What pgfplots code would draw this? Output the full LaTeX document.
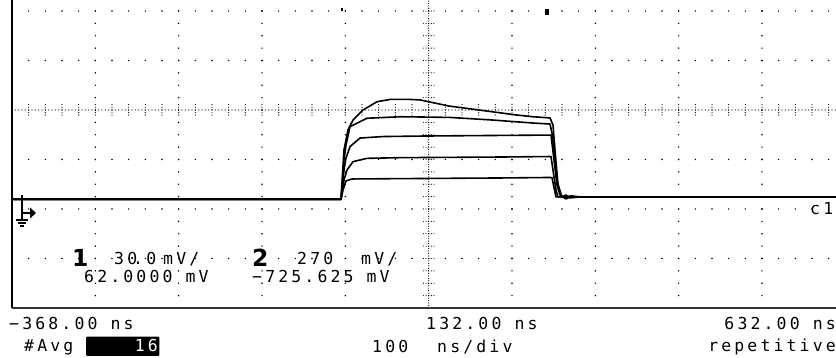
\documentclass[border=0pt]{standalone}
\usepackage{pgfplots}
\pgfplotsset{compat=1.18}
\usepackage{fontspec}
\newfontfamily\scope[LetterSpace=19]{DejaVu Sans Mono}
\newfontfamily\scopebig{DejaVu Sans}
\newcommand\sz{\fontsize{16.5}{19}\selectfont}
\begin{document}
\begin{tikzpicture}[x=1pt,y=1pt]
\useasboundingbox (0,0) rectangle (836,358);
\tikzset{gd/.style={line width=1.6pt, line cap=round, dash pattern=on 0pt off #1, black}}
% dotted graticule (image y -> 358 - y)
\foreach \k in {1,2,3,4,6,7,8,9} \draw[gd=12.375pt] ({12+83.3333*\k},50) -- ({12+83.3333*\k},358);
\foreach \yy in {347,297.5,198.5,149,99.5} \draw[gd=16.6667pt] (12,\yy) -- (836,\yy);
% centre lines with minor ticks
\draw[line width=1.2pt, line cap=round, dash pattern=on 0pt off 3.3333pt, black] (12,248) -- (836,248);
\foreach \k in {1,...,49} \draw[line width=1.2pt,line cap=round,dash pattern=on 0pt off 2.6pt, black] ({12+16.6667*\k},243) -- ({12+16.6667*\k},253.5);
\draw[line width=1.2pt, line cap=round, dash pattern=on 0pt off 2.475pt, black] (428.67,50) -- (428.67,358);
\foreach \k in {1,...,24} \draw[line width=1.2pt,line cap=round,dash pattern=on 0pt off 2.6pt, black] (423.5,{50+12.375*\k}) -- (434,{50+12.375*\k});
\begin{axis}[at={(12pt,50pt)}, anchor=south west, scale only axis,
  width=824pt, height=308pt,
  xmin=-368, xmax=620.8, ymin=-58, ymax=128.667,
  axis x line*=bottom, axis y line*=left,
  xtick=\empty, ytick=\empty,
  x axis line style={line width=2pt, black!80, -},
  y axis line style={line width=2.6pt, black, -},
  clip=true]
\addplot[black, line width=1.6pt, line join=round] coordinates {
(-368,7.9) (26.8,7.9) (29.2,13.5) (32.8,19.0) (40,20.2) (97.6,20.4) (157.6,20.6)
(217.6,20.8) (277.6,21.1) (280,21.0) (282.4,15.0) (284.8,9.3) (620.8,9.3)};
\addplot[black, line width=1.6pt, line join=round] coordinates {
(-368,7.9) (26.8,7.9) (30.4,19.6) (34,25.6) (41.2,30.7) (58,32.7) (97.6,33.1)
(157.6,33.3) (217.6,33.5) (278.8,33.8) (281.2,25.6) (284.8,13.5) (287.2,9.3) (620.8,9.3)};
\addplot[black, line width=1.6pt, line join=round] coordinates {
(-368,7.9) (26.8,7.9) (30.4,25.6) (32.8,32.9) (37.6,39.8) (49.6,45.0) (77.2,45.9)
(121.6,46.2) (193.6,46.5) (278.8,46.8) (282.4,31.7) (286,16.5) (289.6,10.5)
(295.6,8.7) (301.6,9.9) (307.6,9.3) (620.8,9.3)};
\addplot[black, line width=1.6pt, line join=round] coordinates {
(-368,7.9) (26.8,7.9) (30.4,31.7) (32.8,40.8) (37.6,51.9) (58,57.0) (97.6,57.9)
(116.8,57.8) (157.6,57.5) (209.2,55.9) (257.2,54.1) (277.6,53.5) (280,48)
(282.4,37.8) (286,19.6) (290.8,9.9) (296.8,8.1) (304,9.9) (313.6,9.3) (620.8,9.3)};
\addplot[black, line width=1.6pt, line join=round] coordinates {
(-368,7.9) (26.8,7.9) (30.4,37.8) (35.2,49.9) (41.2,55.9) (53.2,62.0) (70,67.0)
(85.6,68.4) (109.6,68.4) (121.6,68.1) (156.4,64.4) (192.4,62.0) (236.8,59.0)
(257.2,57.9) (277.6,57.2) (281.2,52.9) (283.6,37.8) (287.2,16.5) (292,9.3)
(296.8,10.5) (301.6,8.7) (313.6,9.3) (620.8,9.3)};
\end{axis}
% ground marker
\draw[line width=1.3pt] (22,163) -- (22,139);
\draw[line width=1.5pt] (22,145) -- (31,145);
\fill (30,150.5) -- (36,145) -- (30,139.5) -- cycle;
\draw[line width=1.2pt] (16,138) -- (28,138);
\draw[line width=1.2pt] (18,135) -- (26,135);
\draw[line width=1.2pt] (20,132) -- (24,132);
% top markers
\fill (544.7,343) rectangle (548.7,349);
\fill (340.5,347) rectangle (343,349.5);
% channel text
\node[anchor=base west, inner sep=0] at (72,91.3) {\scopebig\fontsize{23.5}{26}\selectfont\bfseries 1};
\node[anchor=base west, inner sep=0] at (114,93) {\scope\sz 30};
\node[anchor=base west, inner sep=0] at (133,93) {\scope\sz .0};
\node[anchor=base west, inner sep=0] at (163,93) {\scope\sz mV/};
\node[anchor=base west, inner sep=0] at (252,91.3) {\scopebig\fontsize{23.5}{26}\selectfont\bfseries 2};
\node[anchor=base west, inner sep=0] at (297,93) {\scope\sz 270};
\node[anchor=base west, inner sep=0] at (361,93) {\scope\sz mV/};
\node[anchor=base west, inner sep=0] at (84,75.3) {\scope\sz 62.0000 mV};
\node[anchor=base west, inner sep=0] at (252,75.3) {\scope\sz −725.625 mV};
\node[anchor=base west, inner sep=0] at (810,143) {\scope\sz c1};
% bottom text
\node[anchor=base west, inner sep=0] at (9,28) {\scope\sz −368.00 ns};
\node[anchor=base west, inner sep=0] at (426,28) {\scope\sz 132.00 ns};
\node[anchor=base east, inner sep=0] at (836,28) {\scope\sz 632.00 ns};
\node[anchor=base west, inner sep=0] at (24,6) {\scope\sz \#Avg};
\fill[rounded corners=1pt] (86,2) rectangle (159.3,21.3);
\node[anchor=base east, inner sep=0, text=white] at (158,6) {\scope\sz 16};
\node[anchor=base west, inner sep=0] at (372,5) {\scope\sz 100};
\node[anchor=base west, inner sep=0] at (437,5) {\scope\sz ns/div};
\node[anchor=base east, inner sep=0] at (836,6) {\scope\sz repetitive};
\end{tikzpicture}
\end{document}
